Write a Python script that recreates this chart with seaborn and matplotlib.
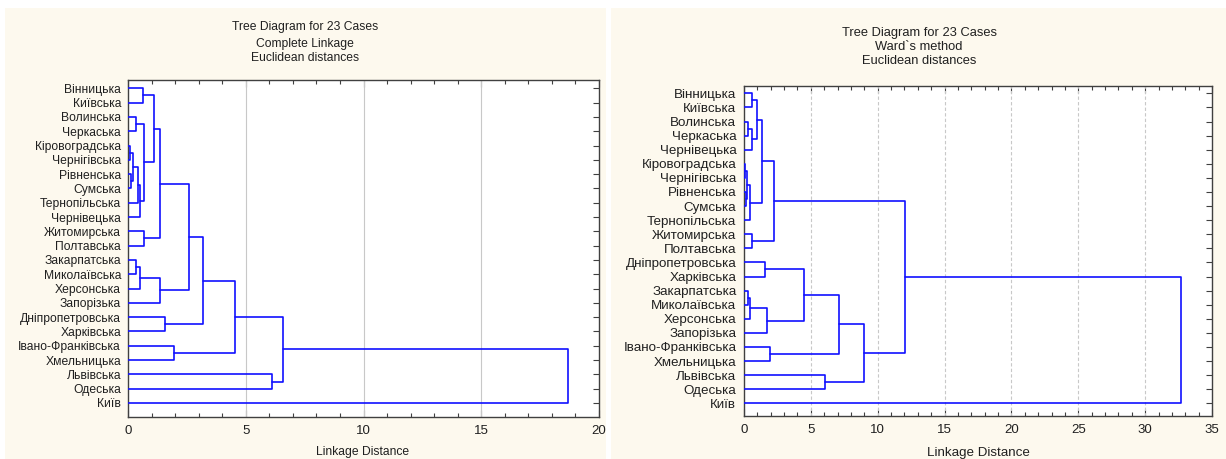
import numpy as np
import pandas as pd
import matplotlib
matplotlib.use('Agg')
import matplotlib.pyplot as plt
import seaborn as sns
from matplotlib.patches import Rectangle
from matplotlib.ticker import MultipleLocator

# ---------------- data ----------------
left_labels = ["Вінницька", "Київська", "Волинська", "Черкаська", "Кіровоградська",
               "Чернігівська", "Рівненська", "Сумська", "Тернопільська", "Чернівецька",
               "Житомирська", "Полтавська", "Закарпатська", "Миколаївська", "Херсонська",
               "Запорізька", "Дніпропетровська", "Харківська", "Івано-Франківська",
               "Хмельницька", "Львівська", "Одеська", "Київ"]
# merges: cluster ids 0..22 are leaves (in display order), new clusters get 23, 24, ...
left_a = [4, 6, 23, 2, 12, 25, 27, 28, 0, 26, 10, 31, 34, 29, 16, 18, 35, 39, 40, 20, 41, 43]
left_b = [5, 7, 24, 3, 13, 8, 14, 9, 1, 30, 11, 32, 33, 15, 17, 19, 36, 37, 38, 21, 42, 22]
left_h = [0.10, 0.12, 0.20, 0.35, 0.35, 0.42, 0.50, 0.52, 0.62, 0.66, 0.66, 1.12,
          1.37, 1.37, 1.55, 1.95, 2.60, 3.20, 4.55, 6.10, 6.57, 18.70]

right_labels = ["Вінницька", "Київська", "Волинська", "Черкаська", "Чернівецька",
                "Кіровоградська", "Чернігівська", "Рівненська", "Сумська", "Тернопільська",
                "Житомирська", "Полтавська", "Дніпропетровська", "Харківська", "Закарпатська",
                "Миколаївська", "Херсонська", "Запорізька", "Івано-Франківська",
                "Хмельницька", "Львівська", "Одеська", "Київ"]
right_a = [5, 7, 23, 2, 14, 25, 27, 0, 26, 10, 30, 33, 12, 29, 18, 34, 35, 20, 39, 41, 38, 43]
right_b = [6, 8, 24, 3, 15, 9, 16, 1, 4, 11, 31, 28, 13, 17, 19, 32, 36, 21, 37, 40, 42, 22]
right_h = [0.10, 0.15, 0.22, 0.33, 0.33, 0.47, 0.47, 0.57, 0.57, 0.62, 1.00, 1.37,
           1.55, 1.72, 1.92, 2.27, 4.46, 6.06, 7.08, 8.98, 12.07, 32.68]

left_titles = ["Tree Diagram for 23 Cases", "Complete Linkage", "Euclidean distances"]
right_titles = ["Tree Diagram for 23 Cases", "Ward`s method", "Euclidean distances"]
x_label = "Linkage Distance"


def dendro_segments(a, b, h, n):
    ypos = {i: float(i) for i in range(n)}
    hpos = {i: 0.0 for i in range(n)}
    rows = []
    for k, (i, j, hh) in enumerate(zip(a, b, h)):
        pts = [(hpos[i], ypos[i]), (hh, ypos[i]), (hh, ypos[j]), (hpos[j], ypos[j])]
        for p, (x, y) in enumerate(pts):
            rows.append(dict(seg=k, order=p, x=x, y=y))
        cid = n + k
        ypos[cid] = (ypos[i] + ypos[j]) / 2
        hpos[cid] = hh
    return pd.DataFrame(rows)


sns.set_theme(style="white")
plt.rcParams['font.family'] = ['Liberation Sans', 'DejaVu Sans']

W, H = 1226, 459
fig = plt.figure(figsize=(W / 100, H / 100), dpi=100)
fig.patch.set_facecolor('white')

cream = '#fdf9ee'
for (x0, x1) in [(5, 606), (611, 1226)]:
    fig.patches.append(Rectangle((x0 / W, 0), (x1 - x0) / W, (H - 8) / H,
                                 transform=fig.transFigure, facecolor=cream,
                                 edgecolor='none', zorder=-10))


def px_axes(l, r, t, b):
    return fig.add_axes([l / W, (H - b) / H, (r - l) / W, (b - t) / H])


def setup(ax, labels, a, b, h, xmax, ylim, grid_ls, lab_fs, lab_pad):
    df = dendro_segments(a, b, h, len(labels))
    sns.lineplot(data=df, x='x', y='y', units='seg', estimator=None, sort=False,
                 color='#1010ff', lw=1.2, ax=ax, legend=False, zorder=3)
    ax.set_facecolor('white')
    ax.set_xlim(0, xmax)
    ax.set_ylim(*ylim)
    ax.set_xlabel('')
    ax.set_ylabel('')
    ax.set_yticks(range(len(labels)))
    ax.set_yticklabels(labels, fontsize=lab_fs, color='#202020')
    ax.tick_params(axis='y', which='major', left=False, right=True, labelleft=True,
                   labelright=False, direction='in', length=4, width=0.8,
                   color='#404040', pad=lab_pad)
    ax.xaxis.set_major_locator(MultipleLocator(5))
    ax.xaxis.set_minor_locator(MultipleLocator(1))
    ax.tick_params(axis='x', which='both', top=True, bottom=True, direction='in',
                   color='#404040', width=0.8)
    ax.tick_params(axis='x', which='major', length=5, labelsize=9.5, pad=6,
                   labelcolor='#202020')
    ax.tick_params(axis='x', which='minor', length=3)
    ax.grid(False)
    for v in range(5, int(xmax), 5):
        ax.axvline(v, color='#c8c8c8', lw=0.8, ls=grid_ls, zorder=1)
    for s in ax.spines.values():
        s.set_color('#404040')
        s.set_linewidth(1.0)
        s.set_visible(True)


axL = px_axes(128, 599, 80, 417)
setup(axL, left_labels, left_a, left_b, left_h, 20, (22.98, -0.58), '-', 8.7, 5)

axR = px_axes(744, 1212, 86, 416)
setup(axR, right_labels, right_a, right_b, right_h, 35, (22.9, -0.52), (0, (3, 2)), 9.6, 5.5)

for txt, y in zip(left_titles, [27, 44, 58]):
    fig.text(305 / W, 1 - y / H, txt, ha='center', va='center', fontsize=8.7, color='#202020')
for txt, y in zip(right_titles, [33, 47, 61]):
    fig.text(919 / W, 1 - y / H, txt, ha='center', va='center', fontsize=9.3, color='#202020')

fig.text(363 / W, 1 - 452 / H, x_label, ha='center', va='center', fontsize=8.7, color='#202020')
fig.text(978 / W, 1 - 453 / H, x_label, ha='center', va='center', fontsize=9.6, color='#202020')

fig.savefig('out.png', dpi=100, facecolor=fig.get_facecolor())
